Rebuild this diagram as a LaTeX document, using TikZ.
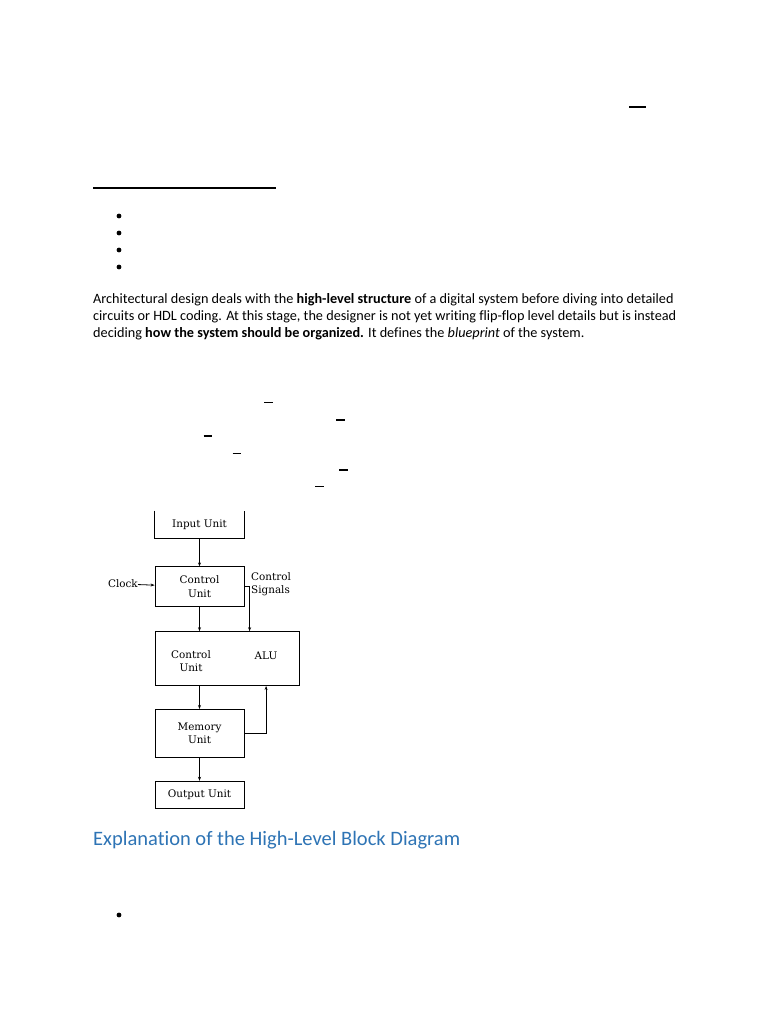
\documentclass[tikz,border=0pt]{standalone}
\usepackage{fontspec}
\setmainfont{Carlito}[Ligatures=NoCommon]
\newfontfamily\figfont{DejaVu Serif}
\usetikzlibrary{arrows.meta,positioning}
\definecolor{headblue}{RGB}{46,116,181}

\begin{document}
\begin{tikzpicture}[
  x=1pt, y=-1pt,
  unit/.style={draw,line width=0.8pt,minimum width=89pt,inner sep=0pt,align=center,
    font=\figfont\fontsize{10.4}{13.5}\selectfont},
  lbl/.style={inner sep=0pt,align=left,font=\figfont\fontsize{10.4}{13.5}\selectfont},
  body/.style={anchor=base west,inner sep=0pt,font=\fontsize{14.24}{17}\selectfont},
  sig/.style={->,line width=0.8pt},
  >={Stealth[length=4pt,width=3pt]}
]
\fill[white] (0,0) rectangle (768,1024);
\useasboundingbox (0,0) rectangle (768,1024);

% page marks
\draw[line width=2pt] (629,107) -- (646,107);
\draw[line width=1.5pt] (93,188) -- (276,188);
\foreach \y in {216,233,250,267}
  \fill (119,\y) circle (2.4);
\fill (119,915) circle (2.4);
\foreach \x/\y in {264/402.7,336/420,203.5/436,232.5/453.3,339/470,315/486.7}
  \draw[line width=1.2pt] (\x,\y) -- ++(8.5,0);

% text
\node[body] (par1) at (93,303) {Architectural design deals with the \textbf{high-level structure} of a digital system before diving into detailed};
\node[body] (par2) at (93,320) {circuits or HDL coding. At this stage, the designer is not yet writing flip-flop level details but is instead};
\node[body] (par3) at (93,337) {deciding \textbf{how the system should be organized.} It defines the \textit{blueprint} of the system.};
\node[body,font=\fontsize{20.5}{24}\selectfont,text=headblue] (head) at (93,845) {Explanation of the High-Level Block Diagram};

% block diagram
\node[unit,draw=none,minimum height=27pt] (inp) at (199.5,524.5) {Input Unit};
\draw[line width=0.8pt] (inp.north west) -- (inp.south west) -- (inp.south east) -- (inp.north east);
\node[unit,minimum height=40pt,below=28pt of inp] (cu) {Control\\Unit};
\node[unit,minimum width=144pt,minimum height=54pt,below right=24pt and 0pt of cu.south west] (core) {};
\node[lbl,align=center] (corecu) at (191,661) {Control\\Unit};
\node[lbl] (alu) at (266,656) {ALU};
\node[unit,minimum height=48pt,below right=23pt and 0pt of core.south west] (mem) {Memory\\Unit};
\node[unit,minimum height=27pt,below=23pt of mem] (out) {Output Unit};
\node[lbl,anchor=east] (clk) at (138,584) {Clock};
\node[lbl,anchor=west] (csig) at (251,584) {Control\\Signals};

\path (core.north west) ++(95,0) coordinate (aluin);
\path (core.south west) ++(111.5,0) coordinate (aluback);

\draw[sig] (inp) -- (cu);
\draw[sig] (clk) -- (cu);
\draw[sig] (cu.south) -- (cu.south |- core.north);
\draw[sig] (cu.east) -| (aluin);
\draw[sig] (mem |- core.south) -- (mem.north);
\draw[sig] (mem.east) -| (aluback);
\draw[sig] (mem) -- (out);
\end{tikzpicture}
\end{document}
